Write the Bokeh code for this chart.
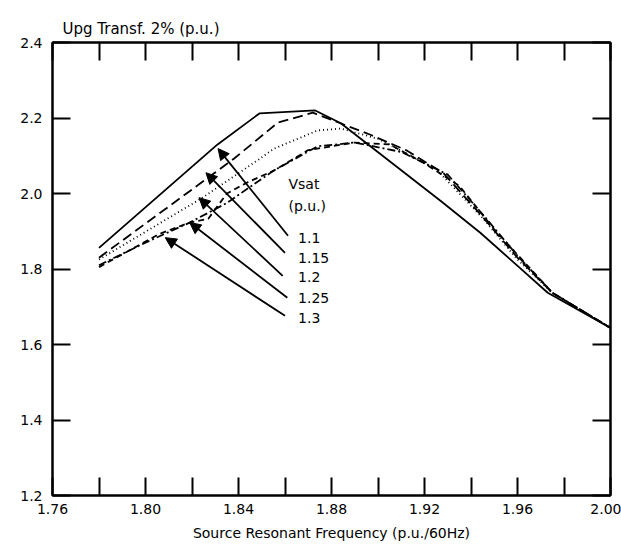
from bokeh.plotting import figure
from bokeh.models import (FixedTicker, PrintfTickFormatter, LinearAxis, Arrow,
                          NormalHead, Label, Range1d, CustomJSTickFormatter)
from bokeh.embed import file_html
from bokeh.resources import INLINE

# ---- data ----
vsat_labels = ["1.1", "1.15", "1.2", "1.25", "1.3"]

x_11 = [1.78, 1.831, 1.849, 1.873, 1.884, 1.927, 1.944, 1.961, 1.973, 2.00]
y_11 = [1.856, 2.130, 2.212, 2.220, 2.186, 1.980, 1.896, 1.803, 1.737, 1.644]

x_115 = [1.78, 1.838, 1.857, 1.872, 1.897, 1.912, 1.928, 1.944, 1.960, 1.975, 2.00]
y_115 = [1.830, 2.092, 2.188, 2.214, 2.155, 2.115, 2.055, 1.945, 1.830, 1.737, 1.644]

x_12 = [1.78, 1.8235, 1.848, 1.855, 1.874, 1.884, 1.900, 1.925, 1.945, 1.960, 1.975, 2.00]
y_12 = [1.825, 1.985, 2.087, 2.118, 2.167, 2.172, 2.145, 2.065, 1.935, 1.825, 1.737, 1.644]

x_125 = [1.78, 1.80, 1.819, 1.835, 1.855, 1.874, 1.890, 1.910, 1.930, 1.945, 1.960, 1.975, 2.00]
y_125 = [1.810, 1.870, 1.923, 1.975, 2.060, 2.125, 2.135, 2.110, 2.050, 1.945, 1.835, 1.737, 1.644]

x_13 = [1.78, 1.806, 1.819, 1.827, 1.835, 1.844, 1.855, 1.870, 1.890, 1.905, 1.920, 1.935, 1.950, 1.975, 2.00]
y_13 = [1.805, 1.893, 1.923, 1.933, 2.000, 2.030, 2.060, 2.115, 2.135, 2.130, 2.080, 2.020, 1.905, 1.737, 1.644]

x_major = [1.76, 1.80, 1.84, 1.88, 1.92, 1.96, 2.00]
x_minor = [1.78, 1.82, 1.86, 1.90, 1.94, 1.98]
y_major = [1.2, 1.4, 1.6, 1.8, 2.0, 2.2, 2.4]

FONT = "DejaVu Sans"
INK = "black"

p = figure(width=621, height=545, x_range=Range1d(1.76, 2.00), y_range=Range1d(1.2, 2.4),
           output_backend="svg", toolbar_location=None,
           min_border_left=52, min_border_right=11, min_border_top=42, min_border_bottom=50,
           title="Upg Transf. 2% (p.u.)")
p.title.align = "left"
p.title.offset = 10
p.title.text_font = FONT
p.title.text_font_size = "15px"
p.title.text_font_style = "normal"
p.title.text_color = INK
p.xgrid.visible = False
p.ygrid.visible = False
p.outline_line_color = INK
p.outline_line_width = 2

xt = FixedTicker(ticks=x_major, minor_ticks=x_minor)
yt = FixedTicker(ticks=y_major, minor_ticks=[])

def style_axis(ax):
    ax.axis_line_width = 2
    ax.axis_line_color = INK
    ax.major_tick_in = 18
    ax.major_tick_out = 0
    ax.minor_tick_in = 18
    ax.minor_tick_out = 0
    ax.major_tick_line_width = 2
    ax.minor_tick_line_width = 2
    ax.major_tick_line_color = INK
    ax.minor_tick_line_color = INK
    ax.major_label_text_font = FONT
    ax.major_label_text_font_size = "14px"
    ax.major_label_text_color = INK
    ax.axis_label_text_font = FONT
    ax.axis_label_text_font_size = "14px"
    ax.axis_label_text_font_style = "normal"
    ax.axis_label_text_color = INK

xa = p.xaxis[0]
xa.ticker = xt
xa.formatter = PrintfTickFormatter(format="%.2f")
xa.axis_label = "Source Resonant Frequency (p.u./60Hz)"
xa.major_label_standoff = 8
xa.axis_label_standoff = 8
style_axis(xa)

ya = p.yaxis[0]
ya.ticker = yt
ya.formatter = PrintfTickFormatter(format="%.1f")
ya.major_label_standoff = 10
style_axis(ya)
ya.minor_tick_in = 0

blank = "return ''"
top = LinearAxis(ticker=xt, formatter=CustomJSTickFormatter(code=blank), major_label_standoff=0)
style_axis(top)
top.major_label_text_font_size = "1px"
p.add_layout(top, "above")
right = LinearAxis(ticker=yt, formatter=CustomJSTickFormatter(code=blank), major_label_standoff=0)
style_axis(right)
right.minor_tick_in = 0
right.major_label_text_font_size = "1px"
p.add_layout(right, "right")

series = [
    (x_11, y_11, "solid"),
    (x_115, y_115, "10 5"),
    (x_12, y_12, "1 3"),
    (x_125, y_125, "8 3 2 3"),
    (x_13, y_13, "6 4"),
]
for xs, ys, dash in series:
    p.line(xs, ys, line_color=INK, line_width=1.8, line_dash=dash)

# annotation: arrows from labels to curves
tails = [(1.8613, 1.888), (1.860, 1.843), (1.859, 1.782), (1.861, 1.724), (1.860, 1.676)]
heads = [(1.8312, 2.119), (1.826, 2.055), (1.823, 1.989), (1.819, 1.923), (1.8085, 1.883)]
label_y = [1.883, 1.830, 1.779, 1.724, 1.671]
for (tx, ty), (hx, hy), ly, txt in zip(tails, heads, label_y, vsat_labels):
    p.add_layout(Arrow(x_start=tx, y_start=ty, x_end=hx, y_end=hy, line_width=1.8,
                       line_color=INK,
                       end=NormalHead(size=11, fill_color=INK, line_color=INK)))
    p.add_layout(Label(x=1.8656, y=ly, text=txt, text_font=FONT, text_font_size="14px",
                       text_color=INK, text_baseline="middle", text_align="left"))

p.add_layout(Label(x=1.8615, y=2.026, text="Vsat", text_font=FONT, text_font_size="14px",
                   text_color=INK, text_baseline="middle"))
p.add_layout(Label(x=1.8615, y=1.968, text="(p.u.)", text_font=FONT, text_font_size="14px",
                   text_color=INK, text_baseline="middle"))

open("out.html", "w").write(file_html(p, INLINE))
